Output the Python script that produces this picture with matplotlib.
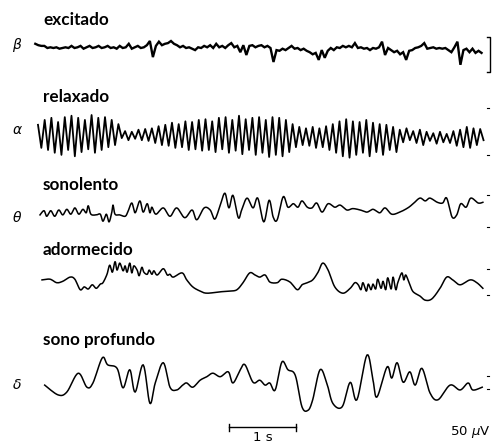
import numpy as np
import matplotlib.pyplot as plt

# EEG traces: time in s, amplitude in uV
beta_t0, beta_dt = -0.07, 0.045
beta_v = [6, 4, 3, 3, 0, 1, 0, 1, -1, 0, 1, 0, 3, 0, 1, 3, -1, 1, 3, 0,
          1, 3, 0, 1, 3, 0, 1, -1, 3, 0, 1, 6, -1, 1, 3, 0, 1, 4, 10, -13,
          3, 9, 4, 6, 7, 10, 6, 4, 1, 3, 0, 1, -1, -3, 1, 0, 3, 1, 4, 0,
          6, 1, 3, 0, 4, 7, 1, 3, -6, 4, -10, 3, 4, 1, 3, 4, 1, 3, 0, -20,
          -3, -4, -1, -3, 0, 3, -1, 0, -3, -1, -4, -6, -9, -7, -17, -3, -14, -4, 0, -3,
          1, 0, 3, 1, 3, 1, 7, 0, 1, -1, 0, -3, 0, -1, 1, 9, -10, 0, -3, -6,
          -4, -9, -6, -17, -4, -3, 0, 1, 3, 7, -1, 0, 1, -1, 0, -1, 0, -3, -6, 1,
          9, -24, -3, -1, -6, -1, -7, -4, -7]

alpha_t0, alpha_dt = -0.03, 0.05
alpha_v = [16, -17, 23, -20, 26, -24, 20, -27, 27, -20, 29, -29, 26, -23, 23, -19, 30, -24, 26, -20,
           27, -16, 23, -13, 17, -3, 7, -6, 6, -4, 9, -6, 10, -7, 11, -10, 14, -13, 16, -14,
           19, -17, 17, -16, 21, -20, 20, -19, 23, -21, 24, -20, 21, -23, 26, -19, 27, -24, 23, -21,
           29, -26, 24, -20, 26, -27, 27, -24, 23, -30, 27, -27, 26, -29, 23, -23, 17, -16, 13, -13,
           11, -14, 13, -17, 11, -16, 14, -20, 17, -24, 21, -29, 24, -31, 21, -27, 20, -24, 23, -29,
           19, -23, 17, -27, 16, -20, 13, -23, 9, -9, 11, -6, 7, -10, 9, -13, 6, -7, 4, -11,
           6, -9, 3, -10, 7, -14, 9, -16, 13, -17, 11, -13, 10, -6]

theta_t = [0.00, 0.06, 0.10, 0.16, 0.22, 0.28, 0.34, 0.40, 0.46, 0.52, 0.58, 0.64, 0.69, 0.72, 0.76,
           0.84, 0.90, 0.94, 0.99, 1.03, 1.07, 1.09, 1.12, 1.19, 1.27, 1.31, 1.37, 1.42, 1.49, 1.54,
           1.60, 1.64, 1.67, 1.73, 1.84, 1.94, 2.04, 2.16, 2.27, 2.34, 2.45, 2.54, 2.61, 2.69, 2.76,
           2.82, 2.88, 2.96, 3.01, 3.09, 3.18, 3.25, 3.34, 3.42, 3.48, 3.54, 3.63, 3.70, 3.78, 3.85,
           3.91, 3.99, 4.06, 4.13, 4.21, 4.30, 4.40, 4.48, 4.58, 4.67, 4.78, 4.88, 4.97, 5.07, 5.15,
           5.25, 5.37, 5.49, 5.57, 5.67, 5.75, 5.82, 5.93, 6.01, 6.07, 6.15, 6.22, 6.28, 6.36, 6.43,
           6.54, 6.61]
theta_v = [-7, -1, -9, -1, -9, 0, -7, 1, -6, 3, -6, 1, -4, 6, -6,
           -7, -6, -16, -6, -17, -4, 7, -6, -7, -9, -3, 10, -4, 13, -3,
           9, -4, 4, -6, 3, -9, 3, -11, 0, -14, 3, 0, -13, 7, 24,
           3, 21, -11, 0, 17, 3, 17, -17, 14, -10, -14, 19, 4, 9, 4,
           13, 4, 3, 10, -3, 9, 4, 7, 0, 2, 0, -3, 1, -4, 3,
           -6, -3, 3, 9, 17, 13, 17, 11, 10, 17, -10, -7, 9, 4, 17,
           10, 11]

sleep_t = [0.03, 0.15, 0.25, 0.34, 0.45, 0.52, 0.60, 0.66, 0.72, 0.78, 0.84, 0.90, 0.94, 1.00, 1.04,
           1.08, 1.12, 1.15, 1.19, 1.24, 1.27, 1.30, 1.34, 1.37, 1.40, 1.45, 1.48, 1.52, 1.55, 1.60,
           1.63, 1.67, 1.70, 1.75, 1.84, 1.90, 1.94, 1.99, 2.12, 2.19, 2.28, 2.39, 2.49, 2.69, 2.84,
           2.94, 3.03, 3.13, 3.21, 3.28, 3.36, 3.43, 3.54, 3.61, 3.73, 3.84, 3.91, 3.99, 4.07, 4.15,
           4.22, 4.30, 4.40, 4.52, 4.63, 4.70, 4.75, 4.79, 4.82, 4.87, 4.90, 4.94, 4.97, 5.01, 5.04,
           5.09, 5.12, 5.16, 5.19, 5.24, 5.27, 5.31, 5.34, 5.40, 5.43, 5.46, 5.52, 5.57, 5.67, 5.75,
           5.85, 5.97, 6.07, 6.16, 6.27, 6.42, 6.52, 6.61]
sleep_v = [3, 4, -1, 1, 7, 4, -11, -7, -10, -4, -9, -3, -1, 11, 24,
           14, 29, 17, 27, 16, 23, 14, 27, 13, 23, 17, 9, 21, 14, 11,
           17, 11, 16, 10, 19, 10, 11, 7, 13, 3, -7, -13, -16, -14, -13,
           -11, -1, 13, 10, 7, 10, 0, -1, 4, 0, -11, -4, -1, 3, 14,
           27, 17, -7, -16, -9, -1, -4, -11, -1, -13, -3, -11, -3, -10, 4,
           -9, 1, -11, 6, -10, 7, -11, -1, 13, 3, 10, -4, -14, -20, -26,
           -24, -9, 7, 3, -4, 3, -1, -9]

delta_t = [0.07, 0.27, 0.40, 0.57, 0.70, 0.79, 0.93, 1.01, 1.15, 1.24, 1.34, 1.42, 1.54, 1.64, 1.72,
           1.84, 1.94, 2.04, 2.13, 2.19, 2.28, 2.39, 2.49, 2.58, 2.69, 2.81, 2.88, 2.99, 3.06, 3.18,
           3.28, 3.36, 3.43, 3.51, 3.61, 3.70, 3.81, 3.91, 4.00, 4.07, 4.18, 4.28, 4.37, 4.51, 4.63,
           4.73, 4.88, 4.97, 5.03, 5.18, 5.25, 5.33, 5.42, 5.52, 5.60, 5.70, 5.82, 5.94, 6.12, 6.27,
           6.39, 6.46, 6.60]
delta_v = [-3, -17, -13, 14, -6, 0, 36, 26, 21, -7, 19, -13, 26, -29, 0,
           29, -6, -10, -3, 0, -6, 4, 9, 14, 9, 16, 0, 19, 26, 1,
           4, -3, 0, -10, 30, 19, 11, -34, -39, -24, 19, 0, -29, -34, 1,
           -24, 40, 4, -20, 23, 7, 29, 1, 16, -3, 21, -14, -24, -3, -10,
           0, -10, -6]

states = ['excitado', 'relaxado', 'sonolento', 'adormecido', 'sono profundo']
bands = [r'$\beta$', r'$\alpha$', r'$\theta$', r'$\delta$']

W, H = 492, 443
PX_S, PX_UV, X0 = 67.0, 0.7, 40   # layout: px per second, px per uV, x of t=0

fig = plt.figure(figsize=(W / 100, H / 100), dpi=100)


def strip(base, half):
    ax = fig.add_axes([0, (H - base - half) / H, 1, 2 * half / H])
    ax.set_xlim(-X0 / PX_S, (W - X0) / PX_S)
    ax.set_ylim(-half / PX_UV, half / PX_UV)
    ax.axis('off')
    ax.patch.set_visible(False)
    return ax


def smooth(t, v, n=8):
    P = np.column_stack([t, v]).astype(float)
    P = np.vstack([P[0], P, P[-1]])
    s = np.linspace(0, 1, n, endpoint=False)[:, None]
    out = []
    for i in range(1, len(P) - 2):
        p0, p1, p2, p3 = P[i - 1], P[i], P[i + 1], P[i + 2]
        out.append(0.5 * (2 * p1 + (p2 - p0) * s + (2 * p0 - 5 * p1 + 4 * p2 - p3) * s ** 2
                          + (3 * p1 - p0 - 3 * p2 + p3) * s ** 3))
    out.append(P[-2][None])
    out = np.vstack(out)
    return out[:, 0], out[:, 1]


ax_b = strip(48, 40)
ax_b.plot(beta_t0 + beta_dt * np.arange(len(beta_v)), beta_v, color='black', lw=1.7,
          solid_joinstyle='miter', clip_on=False)
# 50 uV calibration bar
tb = (490 - X0) / PX_S
ax_b.plot([tb - 0.04, tb, tb, tb - 0.04], [16, 16, -34, -34], color='black', lw=1.0, clip_on=False)

ax_a = strip(136, 40)
ax_a.plot(alpha_t0 + alpha_dt * np.arange(len(alpha_v)), alpha_v, color='black', lw=1.3,
          clip_on=False)

ax_t = strip(210, 40)
ax_t.plot(*smooth(theta_t, theta_v), color='black', lw=1.1, clip_on=False)

ax_s = strip(282, 40)
ax_s.plot(*smooth(sleep_t, sleep_v), color='black', lw=1.1, clip_on=False)

ax_d = strip(383, 60)
ax_d.plot(*smooth(delta_t, delta_v), color='black', lw=1.1, clip_on=False)

# small marks at the right edge
for ax, marks in [(ax_a, (40, -27)), (ax_t, (21, -24)), (ax_s, (19, -19)), (ax_d, (10, -9))]:
    for m in marks:
        ax.plot([tb - 0.05, tb - 0.01], [m, m], color='black', lw=0.8, clip_on=False)

# 1 s time bar
t1 = (229 - X0) / PX_S
ax_d.plot([t1, t1 + 1], [-63, -63], color='black', lw=1.0, clip_on=False)
ax_d.plot([t1, t1], [-58, -68], color='black', lw=1.0, clip_on=False)
ax_d.plot([t1 + 1, t1 + 1], [-58, -68], color='black', lw=1.0, clip_on=False)
ax_d.text(t1 + 0.5, -69, '1 s', ha='center', va='top', fontsize=9.5, family='DejaVu Sans')
ax_d.text((490 - X0) / PX_S, -70, r'50 $\mu$V', ha='right', va='center', fontsize=9.5,
          family='DejaVu Sans')

for s, y in zip(states, [25, 102, 190, 255, 345]):
    fig.text(43 / W, 1 - y / H, s, ha='left', va='baseline', fontsize=12.3,
             family='Lato', weight='bold')
for b, y in zip(bands, [45, 130, 218, 385]):
    fig.text(17 / W, 1 - y / H, b, ha='center', va='center', fontsize=10)

fig.savefig('out.png', dpi=100)
